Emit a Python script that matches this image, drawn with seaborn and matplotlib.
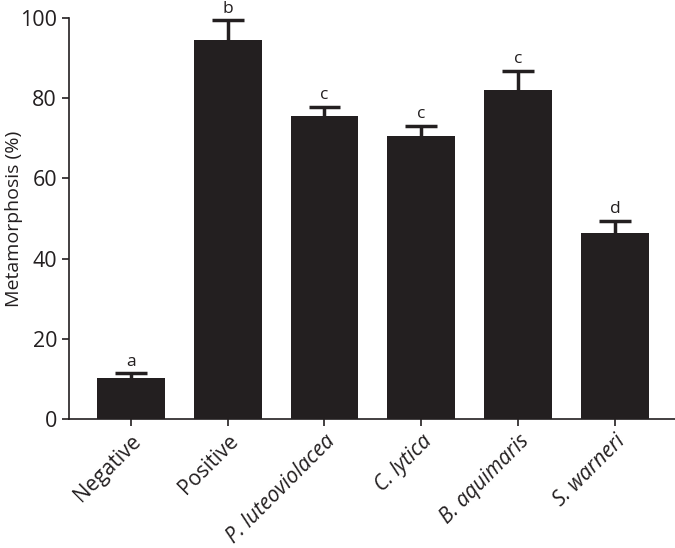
import numpy as np
import pandas as pd
import seaborn as sns
from matplotlib import pyplot as plt

treatments = ["Negative", "Positive", "P. luteoviolacea", "C. lytica", "B. aquimaris", "S. warneri"]
metamorphosis = [10.2, 94.5, 75.4, 70.5, 81.9, 46.4]
sem = [1.2, 4.8, 2.4, 2.6, 4.8, 3.0]
letters = ["a", "b", "c", "c", "c", "d"]
italic = [False, False, True, True, True, True]

sns.set_style("ticks")
plt.rcParams["font.family"] = ["Open Sans", "DejaVu Sans"]

df = pd.DataFrame({"treatment": treatments, "value": metamorphosis})

f = plt.figure(figsize=(6.75, 5.48), dpi=100)
ax = f.add_axes([0.102, 0.235, 0.898, 0.733])

bar_color = "#231f20"
sns.barplot(ax=ax, data=df, x="treatment", y="value", color=bar_color,
            width=0.70, errorbar=None, saturation=1, linewidth=0, zorder=2)

# upper-only error bars (stem + cap)
x = np.arange(len(treatments))
vals = np.array(metamorphosis)
tops = vals + np.array(sem)
ax.vlines(x, vals, tops, color=bar_color, linewidth=2.5, zorder=1)
ax.hlines(tops, x - 0.165, x + 0.165, color=bar_color, linewidth=2.5, zorder=1)

for xi, t, lab in zip(x, tops, letters):
    ax.text(xi, t + 0.9, lab, ha="center", va="bottom", fontsize=12.5,
            color="#231f20", clip_on=False)

ax.set_ylim(0, 100)
ax.set_xlim(-0.64, 5.62)
ax.set_yticks([0, 20, 40, 60, 80, 100])
ax.set_xlabel("")
ax.set_ylabel("Metamorphosis (%)", fontsize=14, color="#231f20")
ax.yaxis.set_label_coords(-0.075, 0.5)
ax.tick_params(axis="y", labelsize=15.5, length=5, width=1.2, colors="#231f20")
ax.tick_params(axis="x", length=5, width=1.2, colors="#231f20")
ax.set_xticks(x)
ax.set_xticklabels(treatments, rotation=45, ha="right", rotation_mode="anchor", fontsize=15)
for t, it in zip(ax.get_xticklabels(), italic):
    if it:
        t.set_style("italic")

sns.despine(ax=ax)
for s in ["left", "bottom"]:
    ax.spines[s].set_linewidth(1.2)
    ax.spines[s].set_color("#231f20")

f.savefig("out.png", dpi=100)
